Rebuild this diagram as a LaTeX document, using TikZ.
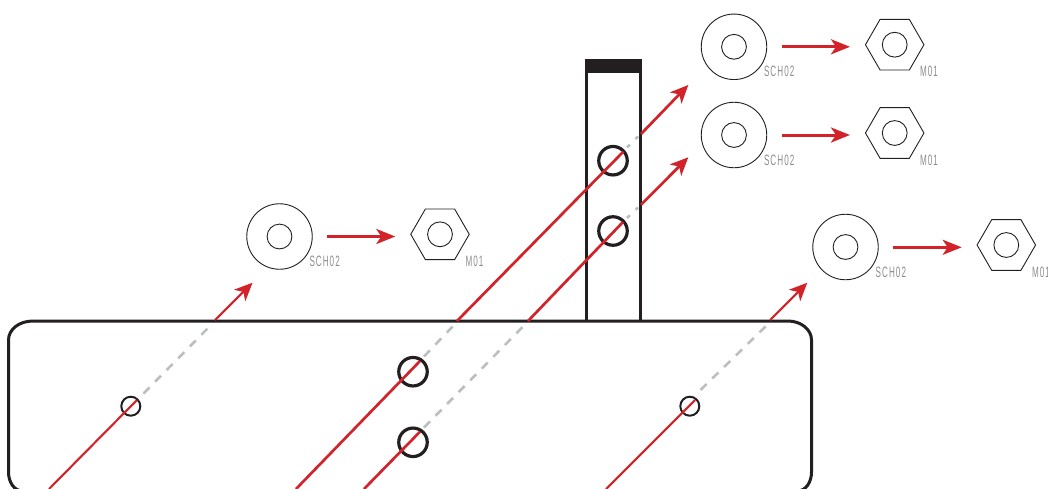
\documentclass[tikz,border=0pt]{standalone}
\usepackage{fontspec}
\setmainfont{Liberation Sans}
\newfontfamily\dinfont[FakeStretch=0.54,LetterSpace=7]{Liberation Sans}
\usetikzlibrary{arrows.meta,shapes.geometric}
\definecolor{ink}{HTML}{231F20}
\definecolor{redline}{HTML}{D2232A}
\definecolor{dashgray}{HTML}{BCBEC0}
\definecolor{labelgray}{HTML}{8A8C8E}
\tikzset{
  outline/.style={draw=ink,line width=3pt,line join=miter},
  holebig/.style={circle,draw=ink,line width=3.2pt,minimum size=28.5pt,inner sep=0pt,outer sep=0pt},
  holesmall/.style={circle,draw=ink,line width=2pt,minimum size=19pt,inner sep=0pt,outer sep=0pt},
  washer/.style={circle,draw=ink,line width=0.9pt,minimum size=65.5pt,inner sep=0pt,outer sep=0pt},
  bore/.style={circle,draw=ink,line width=0.9pt,minimum size=24.8pt,inner sep=0pt,outer sep=0pt},
  nut/.style={regular polygon,regular polygon sides=6,draw=ink,line width=0.9pt,minimum size=58.5pt,inner sep=0pt,outer sep=0pt},
  partlabel/.style={anchor=west,inner sep=0pt,outer sep=0pt,text=labelgray,font=\dinfont\fontsize{15}{15}\selectfont},
  redthin/.style={draw=redline,line width=2.1pt},
  redthick/.style={draw=redline,line width=2.7pt},
  grayrun/.style={draw=dashgray,line width=2.6pt,dash pattern=on 8.5pt off 8pt},
  diagtip/.style={-{Stealth[length=18pt,width=16pt,inset=5pt]}},
  flowarrow/.style={draw=redline,line width=3pt,-{Stealth[length=19pt,width=15pt,inset=5pt]}},
}
\begin{document}
\begin{tikzpicture}[x=1pt,y=-1pt]
\clip (0,0) rectangle (1048,488);

% base plate and post
\draw[outline] (8.5,340) .. controls (8.5,329.5) and (19,321) .. (33,321)
  -- (788,321) .. controls (801,321) and (811.5,329.5) .. (811.5,340)
  -- (811.5,472) .. controls (811.5,482) and (806,491) .. (797,491)
  -- (23,491) .. controls (14,491) and (8.5,482) .. (8.5,472) -- cycle;
\draw[outline] (586,321) -- (586,60.5) -- (640,60.5) -- (640,321);
\fill[ink] (584.5,59.2) rectangle (641.5,72.8);

% holes
\node[holebig] (postA) at (613,160.7) {};
\node[holebig] (postB) at (613,231) {};
\node[holebig] (plateA) at (413,371.7) {};
\node[holebig] (plateB) at (413,442.3) {};
\node[holesmall] (sideL) at (130.8,406.2) {};
\node[holesmall] (sideR) at (689.8,406.2) {};

% washers and nuts
\node[washer] (w1) at (734,46.8) {}; \node[bore] (w1b) at (w1) {};
\node[washer] (w2) at (734,135) {};  \node[bore] (w2b) at (w2) {};
\node[washer] (w3) at (279.5,236.5) {}; \node[bore] (w3b) at (w3) {};
\node[washer] (w4) at (845.5,247) {}; \node[bore] (w4b) at (w4) {};
\node[nut] (n1) at (894.7,44.7) {}; \node[bore] (n1b) at (n1) {};
\node[nut] (n2) at (894.7,133) {};  \node[bore] (n2b) at (n2) {};
\node[nut] (n3) at (440,234.3) {};  \node[bore] (n3b) at (n3) {};
\node[nut] (n4) at (1006.3,245) {}; \node[bore] (n4b) at (n4) {};

% labels
\node[partlabel] (l1) at (764,71.3) {SCH02};
\node[partlabel] (l2) at (764,160) {SCH02};
\node[partlabel] (l3) at (309.5,261.3) {SCH02};
\node[partlabel] (l4) at (875.7,272) {SCH02};
\node[partlabel] (m1) at (920,71.3) {M01};
\node[partlabel] (m2) at (920,160) {M01};
\node[partlabel] (m3) at (465.5,261.3) {M01};
\node[partlabel] (m4) at (1032,272) {M01};

% horizontal arrows
\coordinate (h1a) at (782,46.8); \coordinate (h1b) at (850,46.8);
\coordinate (h2a) at (782,135);  \coordinate (h2b) at (850,135);
\coordinate (h3a) at (327,236.5); \coordinate (h3b) at (395.3,236.5);
\coordinate (h4a) at (893.3,247.3); \coordinate (h4b) at (961.7,247.3);
\draw[flowarrow] (h1a) -- (h1b);
\draw[flowarrow] (h2a) -- (h2b);
\draw[flowarrow] (h3a) -- (h3b);
\draw[flowarrow] (h4a) -- (h4b);

% far-left line
\coordinate (a0) at (49,489); \coordinate (a1) at (137,400);
\coordinate (a2) at (143.5,393.5); \coordinate (a3) at (213,323);
\coordinate (a4) at (215,320); \coordinate (a5) at (252.5,282.7);
\draw[grayrun] (a2) -- (a3);
\draw[redthin] (a0) -- (a1);
\draw[redthin,diagtip] (a4) -- (a5);

% right line
\coordinate (d0) at (606,489); \coordinate (d1) at (695,400);
\coordinate (d2) at (700.5,390); \coordinate (d3) at (766,326);
\coordinate (d4) at (770,320); \coordinate (d5) at (807.3,282.7);
\draw[grayrun] (d2) -- (d3);
\draw[redthin] (d0) -- (d1);
\draw[redthin,diagtip] (d4) -- (d5);

% long upper line
\coordinate (b0) at (296,489); \coordinate (b1) at (420,361);
\coordinate (b2) at (424,356.5); \coordinate (b3) at (455,324);
\coordinate (b4) at (457,321); \coordinate (b5) at (623.3,151.7);
\coordinate (b6) at (627,147.5); \coordinate (b7) at (638,136.5);
\coordinate (b8) at (641,134); \coordinate (b9) at (688.3,85);
\draw[grayrun] (b2) -- (b3);
\draw[grayrun,dash pattern=on 4pt off 8pt on 5pt off 4pt] (b6) -- (b7);
\draw[redthick] (b0) -- (b1);
\draw[redthick] (b4) -- (b5);
\draw[redthick,diagtip] (b8) -- (b9);

% long lower line
\coordinate (c0) at (364,489); \coordinate (c1) at (420,431.7);
\coordinate (c2) at (424,427.5); \coordinate (c3) at (525.5,324);
\coordinate (c4) at (528,321); \coordinate (c5) at (623,222);
\coordinate (c6) at (627,218); \coordinate (c7) at (638,207.5);
\coordinate (c8) at (641,204.7); \coordinate (c9) at (688.3,157.3);
\draw[grayrun] (c2) -- (c3);
\draw[grayrun,dash pattern=on 4pt off 8pt on 5pt off 4pt] (c6) -- (c7);
\draw[redthick] (c0) -- (c1);
\draw[redthick] (c4) -- (c5);
\draw[redthick,diagtip] (c8) -- (c9);
\end{tikzpicture}
\end{document}
